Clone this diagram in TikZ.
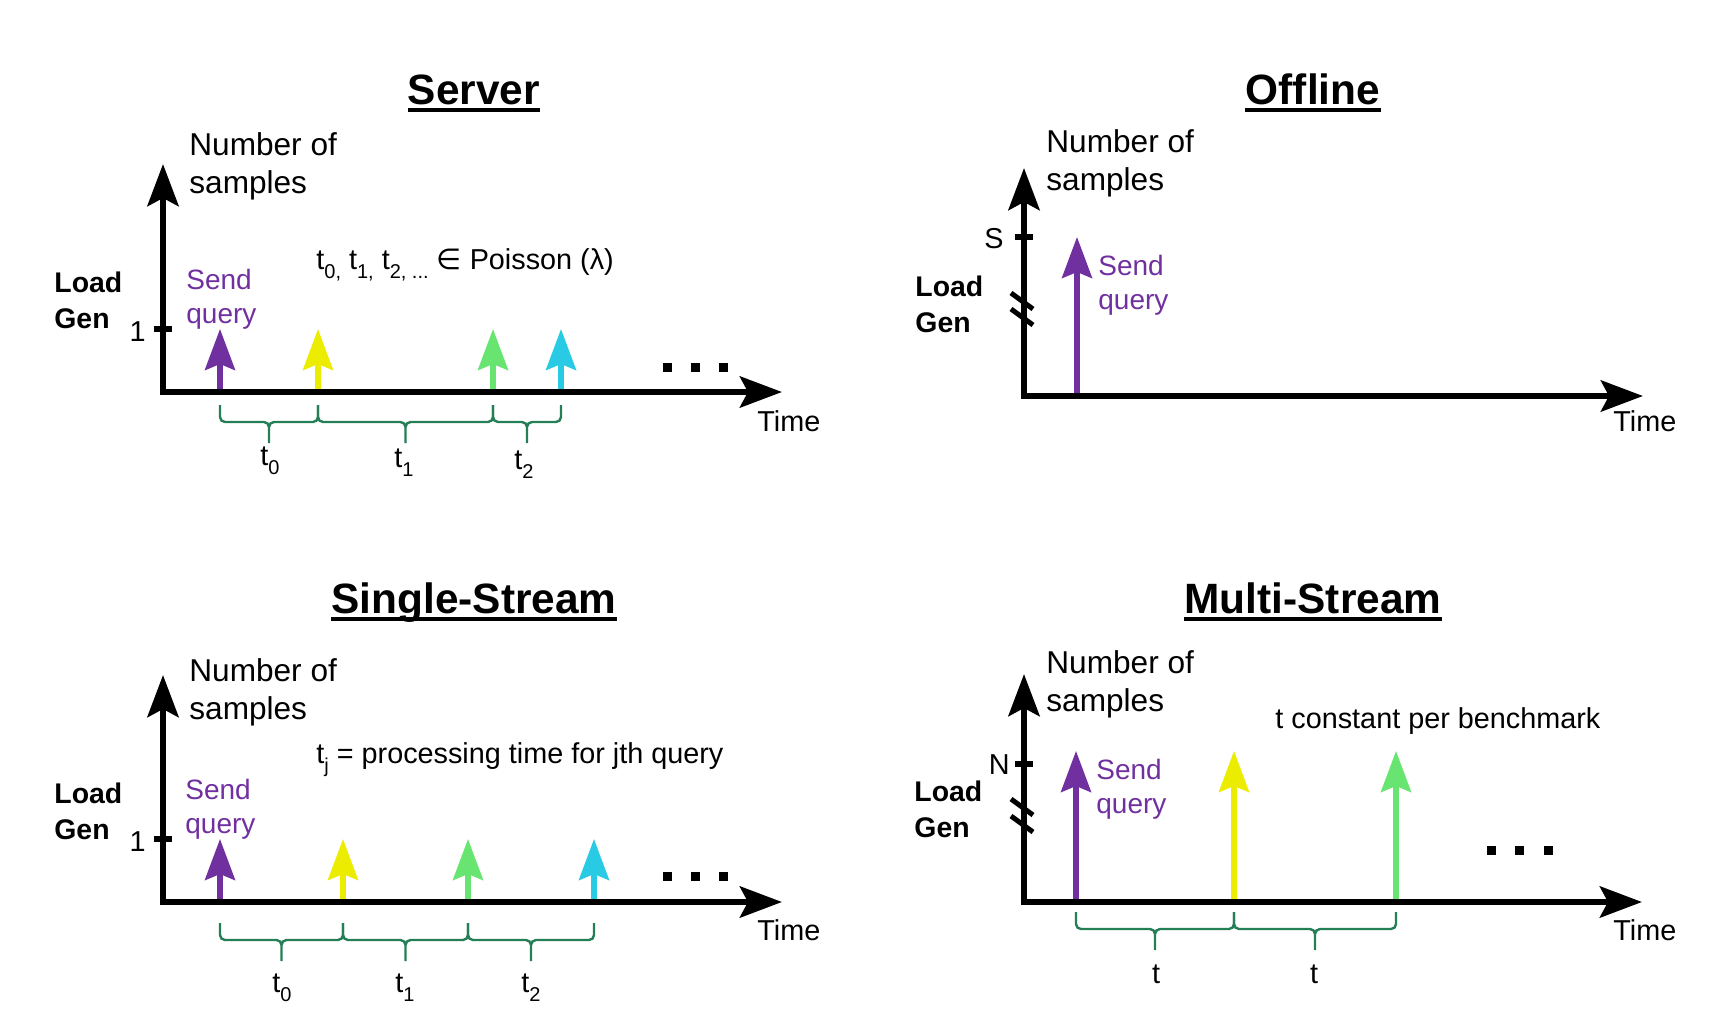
\documentclass[tikz,border=0pt]{standalone}
\usepackage{fontspec}
\setmainfont{Liberation Sans}
\newfontfamily\symfont{DejaVu Sans}
\usetikzlibrary{arrows.meta,calc}
\definecolor{qpurple}{RGB}{112,48,160}
\definecolor{qyellow}{RGB}{236,236,0}
\definecolor{qgreen}{RGB}{104,228,112}
\definecolor{qcyan}{RGB}{40,202,228}
\definecolor{bracegreen}{RGB}{36,126,86}
\newcommand\lowsub[1]{\raisebox{-0.32em}{\fontsize{10}{12}\selectfont #1}}

\begin{document}
\begin{tikzpicture}[x=0.5pt, y=-0.5pt,
  axes/.style={line width=3.3pt, line join=miter,
               {Stealth[length=21pt,width=15.5pt,inset=4pt]}-{Stealth[length=21pt,width=15.5pt,inset=4pt]}},
  query/.style={draw=#1, line width=2.6pt, -{Stealth[length=20.5pt,width=15pt,inset=3pt]}},
  tick/.style={line width=3pt},
  brk/.style={line width=2.5pt},
  gap/.style={draw=bracegreen, line width=1.2pt, rounded corners=2.5pt,
              to path={(\tikztostart) -- ++(0,-8.5pt) -| ($(\tikztostart)!0.5!(\tikztotarget)+(0,-19pt)$)
                       (\tikztotarget) -- ++(0,-8.5pt) -| ($(\tikztostart)!0.5!(\tikztotarget)+(0,-19pt)$)}},
  ttl/.style={font=\fontsize{21.2}{25}\selectfont\bfseries, inner sep=0pt, anchor=base},
  uline/.style={line width=2pt},
  lbl/.style={font=\fontsize{14.4}{17}\selectfont, inner sep=0pt},
  ylab/.style={font=\fontsize{15.8}{19}\selectfont, align=left, inner sep=0pt, anchor=base west},
  lgen/.style={font=\fontsize{14.2}{18}\selectfont\bfseries, align=left, inner sep=0pt, anchor=base west},
  send/.style={font=\fontsize{14}{17}\selectfont, text=qpurple, align=left, inner sep=0pt, anchor=base west},
  dot/.style={fill=black, minimum size=4.5pt, inner sep=0pt}]
\useasboundingbox (0,0) rectangle (1722,1017);

% Server
\node[ttl] (srvT) at (474,104) {Server};
\draw[uline] ([yshift=-3pt]srvT.base west) -- ([yshift=-3pt]srvT.base east);
\coordinate (srvO) at (163,392);
\coordinate (srvY) at (163,164);
\coordinate (srvX) at (782,392);
\coordinate (srvH) at (163,329);
\coordinate (srvA) at (220,392);
\coordinate (srvB) at (318,392);
\coordinate (srvC) at (493,392);
\coordinate (srvD) at (561,392);
\draw[query=qpurple] (srvA) -- (srvA |- srvH);
\draw[query=qyellow] (srvB) -- (srvB |- srvH);
\draw[query=qgreen] (srvC) -- (srvC |- srvH);
\draw[query=qcyan] (srvD) -- (srvD |- srvH);
\draw[axes] (srvY) -- (srvO) -- (srvX);
\draw[tick] ([xshift=-4.5pt]srvH) -- ([xshift=4.5pt]srvH);
\node[lbl, anchor=base east] (srvOne) at (146,341) {1};
\node[ylab] (srvNum) at (189,193) {Number of\\samples};
\node[lgen] (srvLoad) at (54,328) {Load\\Gen};
\node[send] (srvSend) at (186,323) {Send\\query};
\node[lbl, anchor=base west] (srvDist) at (316,269)
  {t\lowsub{0,} t\lowsub{1,} t\lowsub{2, ...} {\symfont ∈} Poisson (λ)};
\draw[gap] ([yshift=-6.5pt]srvA) to ([yshift=-6.5pt]srvB);
\draw[gap] ([yshift=-6.5pt]srvB) to ([yshift=-6.5pt]srvC);
\draw[gap] ([yshift=-6.5pt]srvC) to ([yshift=-6.5pt]srvD);
\node[lbl, anchor=base] (srvt0) at (270,465) {t\lowsub{0}};
\node[lbl, anchor=base] (srvt1) at (404,467) {t\lowsub{1}};
\node[lbl, anchor=base] (srvt2) at (524,469) {t\lowsub{2}};
\node[dot] (srvd1) at (667,367) {};
\node[dot] (srvd2) at (695,367) {};
\node[dot] (srvd3) at (723,367) {};
\node[lbl, anchor=base west] (srvTime) at (757,431) {Time};

% Offline
\node[ttl] (offT) at (1313,104) {Offline};
\draw[uline] ([yshift=-3pt]offT.base west) -- ([yshift=-3pt]offT.base east);
\coordinate (offO) at (1024,396);
\coordinate (offY) at (1024,168);
\coordinate (offX) at (1643,396);
\coordinate (offS) at (1024,237);
\coordinate (offA) at (1077,396);
\draw[query=qpurple] (offA) -- (offA |- offS);
\draw[axes] (offY) -- (offO) -- (offX);
\draw[tick] ([xshift=-4.5pt]offS) -- ([xshift=4.5pt]offS);
\draw[brk] (1011,293) -- (1033,309);
\draw[brk] (1011,309) -- (1033,325);
\node[lbl, anchor=base east] (offSl) at (1004,248) {S};
\node[ylab] (offNum) at (1046,190) {Number of\\samples};
\node[lgen] (offLoad) at (915,332) {Load\\Gen};
\node[send] (offSend) at (1098,309) {Send\\query};
\node[lbl, anchor=base west] (offTime) at (1613,431) {Time};

% Single-Stream
\node[ttl] (sglT) at (474,613) {Single-Stream};
\draw[uline] ([yshift=-3pt]sglT.base west) -- ([yshift=-3pt]sglT.base east);
\coordinate (sglO) at (163,902);
\coordinate (sglY) at (163,675);
\coordinate (sglX) at (782,902);
\coordinate (sglH) at (163,839);
\coordinate (sglA) at (220,902);
\coordinate (sglB) at (343,902);
\coordinate (sglC) at (468,902);
\coordinate (sglD) at (594,902);
\draw[query=qpurple] (sglA) -- (sglA |- sglH);
\draw[query=qyellow] (sglB) -- (sglB |- sglH);
\draw[query=qgreen] (sglC) -- (sglC |- sglH);
\draw[query=qcyan] (sglD) -- (sglD |- sglH);
\draw[axes] (sglY) -- (sglO) -- (sglX);
\draw[tick] ([xshift=-4.5pt]sglH) -- ([xshift=4.5pt]sglH);
\node[lbl, anchor=base east] (sglOne) at (146,851) {1};
\node[ylab] (sglNum) at (189,719) {Number of\\samples};
\node[lgen] (sglLoad) at (54,839) {Load\\Gen};
\node[send] (sglSend) at (185,833) {Send\\query};
\node[lbl, anchor=base west] (sglProc) at (316,763)
  {t\lowsub{j} = processing time for jth query};
\draw[gap] ([yshift=-10.5pt]sglA) to ([yshift=-10.5pt]sglB);
\draw[gap] ([yshift=-10.5pt]sglB) to ([yshift=-10.5pt]sglC);
\draw[gap] ([yshift=-10.5pt]sglC) to ([yshift=-10.5pt]sglD);
\node[lbl, anchor=base] (sglt0) at (282,992) {t\lowsub{0}};
\node[lbl, anchor=base] (sglt1) at (405,992) {t\lowsub{1}};
\node[lbl, anchor=base] (sglt2) at (531,992) {t\lowsub{2}};
\node[dot] (sgld1) at (667,876) {};
\node[dot] (sgld2) at (695,876) {};
\node[dot] (sgld3) at (723,876) {};
\node[lbl, anchor=base west] (sglTime) at (757,940) {Time};

% Multi-Stream
\node[ttl] (mulT) at (1313,613) {Multi-Stream};
\draw[uline] ([yshift=-3pt]mulT.base west) -- ([yshift=-3pt]mulT.base east);
\coordinate (mulO) at (1024,902);
\coordinate (mulY) at (1024,674);
\coordinate (mulX) at (1642,902);
\coordinate (mulN) at (1024,764);
\coordinate (mulH) at (1024,751);
\coordinate (mulA) at (1076,902);
\coordinate (mulB) at (1234,902);
\coordinate (mulC) at (1396,902);
\draw[query=qpurple] (mulA) -- (mulA |- mulH);
\draw[query=qyellow] (mulB) -- (mulB |- mulH);
\draw[query=qgreen] (mulC) -- (mulC |- mulH);
\draw[axes] (mulY) -- (mulO) -- (mulX);
\draw[tick] ([xshift=-4.5pt]mulN) -- ([xshift=4.5pt]mulN);
\draw[brk] (1011,799) -- (1033,815);
\draw[brk] (1011,816) -- (1033,832);
\node[lbl, anchor=base east] (mulNl) at (1010,774) {N};
\node[ylab] (mulNum) at (1046,711) {Number of\\samples};
\node[lgen] (mulLoad) at (914,837) {Load\\Gen};
\node[send] (mulSend) at (1096,813) {Send\\query};
\node[lbl, anchor=base west] (mulConst) at (1275,728) {t constant per benchmark};
\draw[gap] ([yshift=-5pt]mulA) to ([yshift=-5pt]mulB);
\draw[gap] ([yshift=-5pt]mulB) to ([yshift=-5pt]mulC);
\node[lbl, anchor=base] (mult0) at (1156,983) {t};
\node[lbl, anchor=base] (mult1) at (1314,983) {t};
\node[dot] (muld1) at (1491,850) {};
\node[dot] (muld2) at (1519,850) {};
\node[dot] (muld3) at (1548,850) {};
\node[lbl, anchor=base west] (mulTime) at (1613,940) {Time};
\end{tikzpicture}
\end{document}
